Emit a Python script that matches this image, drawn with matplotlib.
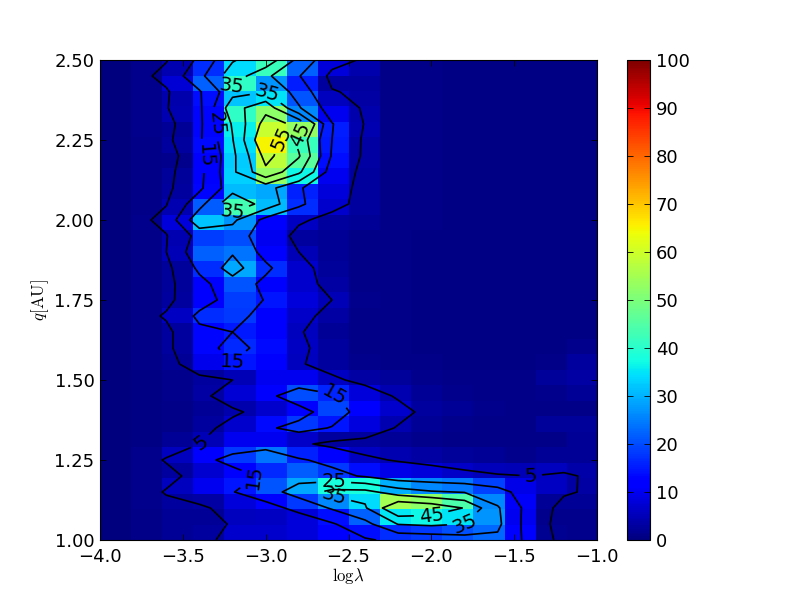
import numpy as np
import matplotlib
matplotlib.use('Agg')
import matplotlib.pyplot as plt

plt.rcParams.update({
    'font.size': 13,
    'mathtext.fontset': 'cm',
    'xtick.direction': 'in',
    'ytick.direction': 'in',
    'xtick.top': True,
    'ytick.right': True,
    'xtick.major.size': 4,
    'ytick.major.size': 4,
    'xtick.major.width': 0.6,
    'ytick.major.width': 0.6,
    'xtick.major.pad': 6,
    'ytick.major.pad': 4,
})

# percent per cell, rows from q=2.5 down to q=1.0
row30 = [.3, 1.5, 4.5, 17, 34, 42, 22, 8, 4, 1, .8, .5, .5, .5, .5, .5]
row29 = [.3, 1.5, 7.6, 22, 41, 27, 15.5, 3, 3, 1, .8, .5, .5, .5, .5, .5]
row28 = [.3, 1.5, 4, 14, 32, 35, 21, 5.5, 3.5, 1, .8, .5, .5, .5, .5, .5]
row27 = [.3, 1.5, 4.5, 13, 41, 52, 26, 10, 4, 1, .8, .5, .5, .5, .5, .5]
row26 = [.3, 1.5, 2, 13, 36, 59, 53, 15.5, 4.5, 1, .8, .5, .5, .5, .5, .5]
row25 = [.3, 1, 3, 13.5, 34.5, 65, 42, 15, 3.5, 1, .8, .5, .5, .5, .5, .5]
row24 = [.3, 1, 1.5, 11, 32.5, 58, 46, 14, 3.5, 1, .8, .5, .5, .5, .5, .5]
row23 = [.3, 1, 2.5, 12, 33, 53, 37, 10, 3, 1, .8, .5, .5, .5, .5, .5]
row22 = [.3, 1, 3, 13, 31, 29, 16, 8, 3, 1, .8, .5, .5, .5, .5, .5]
row21 = [.3, 1, 4.6, 21.5, 43, 31, 17, 7, 3, 1, .8, .5, .5, .5, .5, .5]
row20 = [.3, 1.5, 8, 32, 27, 12, 6, 3, 2, 1, .8, .5, .5, .5, .5, .5]
row19 = [.3, 1, 4.5, 18.5, 20, 10, 3, 2, 1, .8, .6, .5, .5, .5, .5, .5]
row18 = [.3, 1, 5, 22, 24, 11.7, 5, 2, 1, .8, .6, .5, .5, .5, .5, .5]
row17 = [.3, 1, 2.5, 17, 29, 17, 7, 2.5, 1, .8, .6, .5, .5, .5, .5, .5]
row16 = [.3, 1, 2.5, 12, 21, 12.5, 7, 3.5, 1, .8, .6, .5, .5, .5, .5, .5]
row15 = [.3, 1, 3, 11, 18.5, 14.7, 8, 5, 1.5, .8, .6, .5, .5, .5, .5, .5]
row14 = [.3, 1, 5.9, 17, 18, 12, 6.5, 3.5, 1, .8, .6, .5, .5, .5, .5, .5]
row13 = [.3, 1, 3, 13, 15, 12, 5.5, 2, 1, .8, .6, .5, .5, .5, .5, .5]
row12 = [.3, 1, 3, 13, 16.5, 13.6, 6, 3, 1, .8, .6, .5, .5, .5, .5, 1.5]
row11 = [.3, 1, 2, 9.5, 14.8, 12, 5.5, 3, 1.5, 1, .8, .5, .5, .5, 1, 3]
row10 = [.3, .7, 1.5, 3, 5, 10, 10, 6, 3.5, 2.5, 1.5, 1, 1, 1, 2.5, 3.5]
row9 = [.3, .7, 1.5, 3.5, 7.8, 12.5, 20, 16.4, 8, 4.3, 2, 1.5, 1, 1, 1.5, 2]
row8 = [.3, .7, 1, 2, 4, 7, 11.5, 19.5, 11, 7, 3, 2, 1.5, 1, 1, 1]
row7 = [.3, .7, 1, 3, 7, 13.5, 18, 14.5, 8.5, 4.5, 2, 1.5, 1, 1, 2.5, 2.5]
row6 = [.3, .7, 2, 5, 10, 10, 6.5, 3, 3, 2, 1.5, 1, 1, 1, 1, 2]
row5 = [.3, 1.5, 5.5, 12, 18, 24, 16, 12.5, 5.9, 4.6, 3.5, 2.5, 2, 1.5, 2, 2]
row4 = [.3, 1.5, 3, 7.3, 11, 16.7, 21.5, 18, 14, 9, 8, 6.5, 5.4, 5, 5.8, 3.9]
row3 = [.3, 1.5, 5.5, 10, 14.6, 21, 29, 38, 38, 30, 26, 24.5, 19, 9, 6, 3.5]
row2 = [.3, 1.5, 3, 3.5, 8, 11, 18, 26, 34, 55, 52, 44.5, 26, 10.7, 2.2, 2]
row1 = [.3, 1, 2, 2, 5.6, 6, 8, 14, 22, 35.5, 37, 35, 27, 9.9, 1.5, 1.5]
row0 = [.3, 1, 2, 3, 7, 7, 8, 11, 14, 17, 18, 20.5, 23, 12, 1.9, 1.5]

percent = np.array([row30, row29, row28, row27, row26, row25, row24, row23,
                    row22, row21, row20, row19, row18, row17, row16, row15,
                    row14, row13, row12, row11, row10, row9, row8, row7,
                    row6, row5, row4, row3, row2, row1, row0])[::-1]

levels = [5, 15, 25, 35, 45, 55]
xticks = [-4.0, -3.5, -3.0, -2.5, -2.0, -1.5, -1.0]
yticks = [1.00, 1.25, 1.50, 1.75, 2.00, 2.25, 2.50]
cticks = [0, 10, 20, 30, 40, 50, 60, 70, 80, 90, 100]
label_pos = [(-3.4, 1.31), (-1.40, 1.20),
             (-3.37, 2.2), (-3.19, 1.55), (-2.6, 1.43), (-3.06, 1.19),
             (-3.29, 2.30), (-2.59, 1.18),
             (-3.2, 2.42), (-2.99, 2.40), (-3.2, 2.02), (-2.59, 1.13), (-1.8, 1.05),
             (-2.80, 2.27), (-2.0, 1.07),
             (-2.92, 2.26)]

fig = plt.figure(figsize=(8, 6), dpi=100)
ax = fig.add_axes([0.125, 0.1, 0.6213, 0.8])
cax = fig.add_axes([0.784, 0.1, 0.0287, 0.8])

im = ax.imshow(percent, origin='lower', extent=[-4, -1, 1, 2.5], aspect='auto',
               interpolation='nearest', cmap='jet', vmin=0, vmax=100)
x = np.linspace(-4, -1, percent.shape[1])
y = np.linspace(1, 2.5, percent.shape[0])
cs = ax.contour(x, y, percent, levels=levels, colors='k', linewidths=1.2)
ax.set_xlim(-4, -1)
ax.set_ylim(1, 2.5)
ax.clabel(cs, fmt='%d', fontsize=14, manual=label_pos)

ax.set_xticks(xticks)
ax.set_yticks(yticks)
ax.set_yticklabels(['%.2f' % t for t in yticks])
ax.set_xlabel(r'$\mathrm{log}\lambda$', fontsize=12, labelpad=0)
ax.set_ylabel(r'$q[\mathrm{AU}]$', fontsize=12, labelpad=2)

cb = fig.colorbar(im, cax=cax, ticks=cticks)
cb.ax.tick_params(direction='in', left=True, right=True, length=4, width=0.6)

fig.savefig('out.png', dpi=100)
